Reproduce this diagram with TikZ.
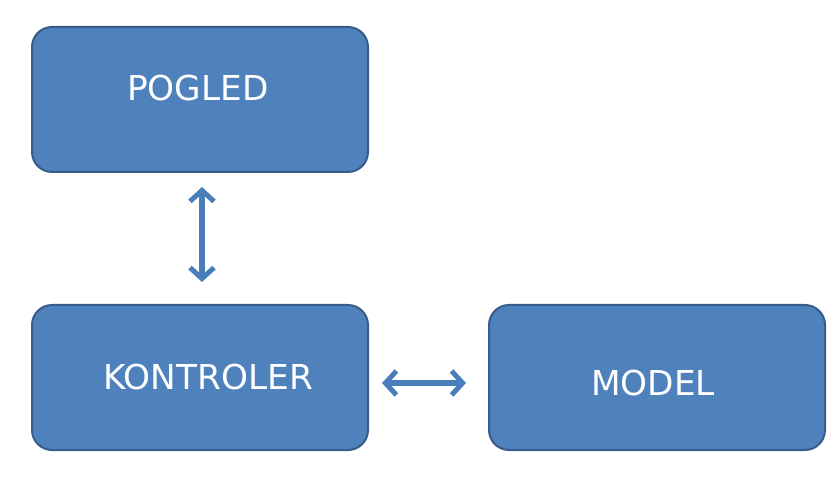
\documentclass[tikz,border=0pt]{standalone}
\usepackage{fontspec}
\setmainfont{DejaVu Sans}
\usetikzlibrary{arrows.meta,positioning}

\definecolor{boxfill}{HTML}{4F81BD}
\definecolor{boxline}{HTML}{385D8A}
\definecolor{arrowcol}{HTML}{4A7EBB}

\tikzset{
  box/.style={draw=boxline,line width=2pt,fill=boxfill,rounded corners=20pt,
    minimum width=336pt,minimum height=145pt,inner sep=0pt},
  lbl/.style={text=white,font=\fontsize{34.3}{40}\selectfont,inner sep=0pt},
  link/.style={draw=arrowcol,line width=5.5pt,
    {Straight Barb[length=11pt,width=24pt,line width=5pt]}-{Straight Barb[length=11pt,width=24pt,line width=5pt]}}
}

\begin{document}
\begin{tikzpicture}[x=1pt,y=-1pt]
  \useasboundingbox (0,0) rectangle (839,497);
  % boxes
  \node[box] (pogled) at (200,99.5) {};
  \node[box] (kontroler) at (200,377.5) {};
  \node[box] (model) at (657,377.5) {};
  % labels
  \node[lbl] at ([xshift=-2pt,yshift=11pt]pogled.center) {POGLED};
  \node[lbl] at ([xshift=8pt]kontroler.center) {KONTROLER};
  \node[lbl] at ([xshift=-4pt,yshift=-5.5pt]model.center) {MODEL};
  % arrows
  \draw[link] ([xshift=2pt,yshift=-14pt]pogled.south) -- ([xshift=2pt,yshift=22pt]kontroler.north);
  \draw[link] ([xshift=13pt,yshift=-5.5pt]kontroler.east) -- ([xshift=-22pt,yshift=-5.5pt]model.west);
\end{tikzpicture}
\end{document}
